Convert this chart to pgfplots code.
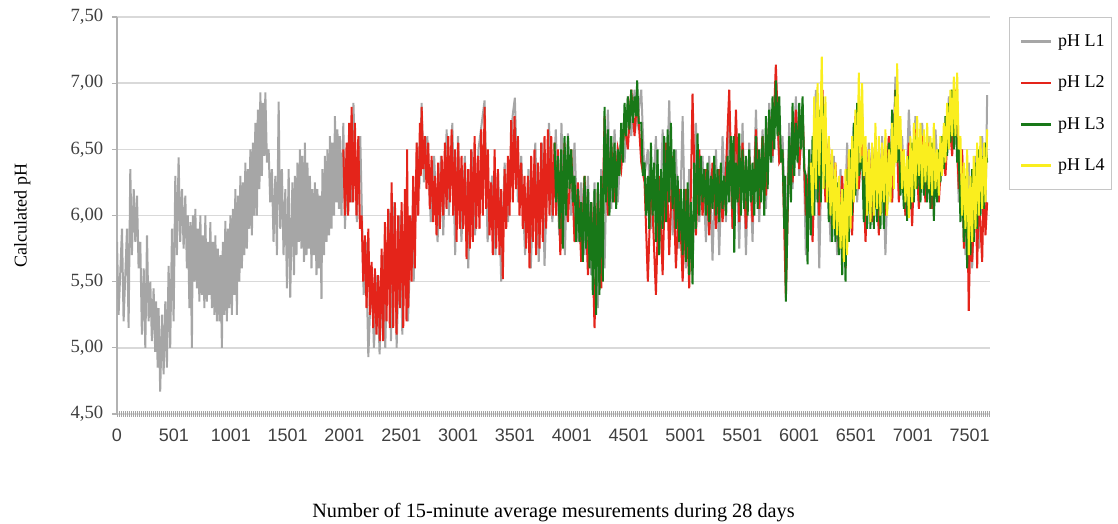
\documentclass[border=0pt]{standalone}
\usepackage{fontspec}
\setmainfont{Liberation Serif}
\setsansfont{Liberation Sans}
\usepackage{pgfplots}
\pgfplotsset{compat=1.18}

\definecolor{cLone}{RGB}{166,166,166}
\definecolor{cLtwo}{RGB}{228,36,26}
\definecolor{cLthree}{RGB}{24,120,24}
\definecolor{cLfour}{RGB}{250,238,30}

\begin{document}
\begin{tikzpicture}
\useasboundingbox (-87.75pt,-82.5pt) rectangle (750.75pt,310.5pt);
\begin{axis}[
    scale only axis,
    width=654.75pt, height=297.75pt,
    xmin=0, xmax=7680,
    ymin=4.5, ymax=7.5,
    axis x line=bottom, axis y line=left,
    axis line style={-},
    y axis line style={draw=gray!60, line width=0.8pt},
    x axis line style={draw=gray!70, line width=3.8pt, dash pattern=on 1.1pt off 0.4pt},
    xtick={0,501,1001,1501,2001,2501,3001,3501,4001,4501,5001,5501,6001,6501,7001,7501},
    xticklabels={0,501,1001,1501,2001,2501,3001,3501,4001,4501,5001,5501,6001,6501,7001,7501},
    x tick style={draw=none},
    xticklabel style={font=\sffamily\fontsize{13.5}{15}\selectfont, text=black!75, yshift=-4pt},
    ytick={4.5,5,5.5,6,6.5,7,7.5},
    y tick style={draw=gray!60, line width=0.8pt},
    tick align=outside,
    major tick length=3.75pt,
    yticklabel style={font=\fontsize{14}{16}\selectfont, text=black!75, xshift=-3pt},
    yticklabel={\pgfmathprintnumber[fixed,fixed zerofill,precision=2,use comma,assume math mode=true]{\tick}},
    ymajorgrids,
    major grid style={draw=gray!30, line width=1.2pt},
    xlabel={Number of 15-minute average mesurements during 28 days},
    ylabel={Calculated pH},
    xlabel style={at={(axis description cs:0.5,-0.247)}, anchor=center, font=\fontsize{15.2}{17}\selectfont},
    ylabel style={at={(axis description cs:-0.1084,0.5)}, anchor=center, font=\fontsize{13.5}{15}\selectfont},
    legend style={at={(axis description cs:1.0218,1)}, anchor=north west,
        draw=gray!45, line width=0.8pt, font=\fontsize{13.5}{15}\selectfont,
        inner xsep=3pt, inner ysep=11pt, row sep=16.5pt},
    legend cell align=left,
    legend image code/.code={
        \path (0pt,0pt) (30pt,0pt);
        \draw[#1, line width=2pt] (5pt,0pt) -- (27.5pt,0pt);},
]
% pH L1 (grey)
\addplot[cLone, line width=1.5pt] coordinates {
(0,5.80)(14,5.25)(44,5.90)(58,5.20)(88,5.90)(102,5.15)(117,6.35)(131,5.70)
(147,6.20)(161,5.80)(176,6.15)(190,5.60)(205,5.80)(219,5.10)(235,5.60)(249,5.00)
(264,5.85)(278,5.20)(293,5.50)(307,5.05)(322,5.45)(336,4.97)(344,5.35)(358,4.85)
(366,5.30)(380,4.67)(396,5.25)(410,4.80)(425,5.35)(439,4.85)(454,5.62)(468,5.00)
(484,5.90)(498,5.20)(513,6.30)(527,5.70)(542,6.44)(556,5.80)(572,6.20)(586,5.75)
(601,6.15)(615,5.60)(623,6.00)(637,5.30)(645,5.95)(659,5.00)(667,6.00)(681,5.50)
(689,6.05)(703,5.45)(711,5.90)(725,5.35)(733,6.00)(747,5.40)(755,5.85)(769,5.30)
(777,6.00)(791,5.35)(799,5.80)(813,5.40)(821,5.95)(835,5.30)(843,5.80)(857,5.25)
(865,5.85)(879,5.20)(887,5.75)(901,5.20)(909,5.70)(923,5.00)(931,5.80)(945,5.25)
(953,5.96)(967,5.20)(975,5.90)(989,5.30)(997,6.00)(1011,5.25)(1019,6.05)(1033,5.40)
(1041,6.20)(1055,5.25)(1063,6.15)(1077,5.50)(1085,6.30)(1099,5.60)(1107,6.25)(1121,5.70)
(1129,6.40)(1143,5.75)(1151,6.35)(1165,5.90)(1173,6.50)(1187,5.85)(1195,6.55)(1209,6.00)
(1217,6.70)(1231,6.00)(1239,6.80)(1253,6.20)(1261,6.93)(1275,6.30)(1283,6.85)(1297,6.45)
(1305,6.93)(1319,6.40)(1334,6.50)(1348,6.10)(1363,6.35)(1377,5.80)(1393,6.30)(1407,5.70)
(1422,6.86)(1436,5.90)(1451,6.35)(1465,5.70)(1481,6.20)(1495,5.45)(1510,6.35)(1524,5.38)
(1543,6.25)(1557,5.55)(1565,6.30)(1579,5.70)(1587,6.40)(1601,5.80)(1609,6.50)(1623,5.75)
(1631,6.45)(1645,5.65)(1653,6.55)(1667,5.70)(1675,6.40)(1689,5.75)(1697,6.30)(1711,5.60)
(1719,6.20)(1733,5.70)(1741,6.25)(1755,5.55)(1763,6.20)(1777,5.60)(1785,6.15)(1799,5.37)
(1807,6.35)(1821,5.70)(1829,6.45)(1843,5.80)(1851,6.50)(1865,5.85)(1873,6.60)(1887,5.90)
(1895,6.55)(1909,6.00)(1917,6.75)(1931,6.10)(1939,6.65)(1953,6.05)(1961,6.60)(1975,6.00)
(1991,6.70)(2005,5.90)(2035,6.55)(2064,6.10)(2080,6.85)(2110,5.95)(2140,6.60)(2170,5.40)
(2190,5.80)(2211,4.93)(2240,5.60)(2260,5.00)(2290,5.55)(2310,4.95)(2340,5.70)(2360,5.00)
(2390,6.05)(2410,5.05)(2440,6.10)(2460,5.00)(2490,6.00)(2510,5.10)(2540,6.15)(2560,5.20)
(2590,6.00)(2610,5.50)(2640,6.55)(2660,6.20)(2680,6.85)(2700,6.25)(2730,6.60)(2760,5.95)
(2790,6.45)(2820,5.80)(2850,6.45)(2870,5.85)(2900,6.65)(2920,6.00)(2950,6.70)(2975,5.70)
(3000,6.60)(3030,5.80)(3060,6.45)(3090,5.60)(3120,6.50)(3150,5.85)(3180,6.50)(3234,6.87)
(3260,5.80)(3300,6.30)(3330,5.70)(3351,6.35)(3380,5.50)(3410,6.40)(3440,5.95)(3480,6.75)
(3500,6.89)(3527,6.10)(3556,6.45)(3590,5.70)(3620,6.35)(3640,5.60)(3680,6.55)(3710,5.65)
(3740,6.55)(3761,5.62)(3800,6.70)(3830,5.95)(3860,6.65)(3890,5.85)(3910,6.70)(3940,5.70)
(3967,6.62)(3996,6.00)(4025,6.55)(4055,5.80)(4084,6.25)(4113,5.70)(4143,6.30)(4172,5.55)
(4201,6.25)(4230,5.30)(4260,6.35)(4289,5.60)(4318,6.80)(4348,6.05)(4377,6.65)(4406,6.10)
(4436,6.60)(4465,6.40)(4494,6.90)(4524,6.60)(4553,6.95)(4576,6.70)(4612,6.95)(4641,6.30)
(4670,6.50)(4700,5.90)(4741,6.60)(4770,5.75)(4800,6.65)(4829,6.00)(4858,6.87)(4888,5.85)
(4917,6.50)(4946,5.75)(4976,6.75)(5005,5.60)(5034,6.35)(5063,5.55)(5093,6.70)(5122,5.95)
(5151,6.45)(5181,5.80)(5210,6.45)(5239,5.66)(5269,6.50)(5298,5.70)(5327,6.60)(5357,5.95)
(5386,6.75)(5415,5.90)(5445,6.60)(5474,5.75)(5503,6.70)(5533,5.70)(5562,6.55)(5591,5.80)
(5621,6.80)(5650,5.95)(5679,6.65)(5709,6.05)(5738,6.85)(5767,6.40)(5796,7.00)(5826,6.40)
(5855,6.60)(5884,5.80)(5914,6.70)(5943,6.20)(5972,6.90)(6002,6.30)(6031,6.85)(6060,5.70)
(6090,6.50)(6119,6.00)(6148,6.95)(6178,5.60)(6207,6.80)(6247,6.50)(6277,5.80)(6306,6.45)
(6335,5.70)(6365,6.35)(6394,5.70)(6423,6.55)(6453,6.05)(6482,6.70)(6511,6.10)(6555,6.80)
(6585,5.95)(6614,6.55)(6643,6.00)(6672,6.60)(6702,5.90)(6731,6.60)(6760,5.70)(6790,6.60)
(6819,6.10)(6848,7.05)(6878,6.20)(6907,6.60)(6936,6.00)(6966,6.80)(6995,6.20)(7024,6.75)
(7054,6.10)(7083,6.70)(7112,6.20)(7142,6.60)(7171,6.10)(7200,6.65)(7230,6.20)(7259,6.60)
(7288,6.40)(7318,6.90)(7347,6.50)(7376,6.95)(7405,6.10)(7435,6.45)(7464,5.70)(7493,6.40)
(7523,5.60)(7552,6.45)(7581,5.75)(7611,6.60)(7640,6.00)(7655,6.91)
};
\addlegendentry{pH L1}
% pH L2 (red)
\addplot[cLtwo, line width=1.5pt] coordinates {
(1991,6.50)(2005,6.00)(2020,6.55)(2034,6.00)(2042,6.70)(2052,6.10)(2064,6.82)(2078,6.10)
(2093,6.70)(2107,6.00)(2123,6.60)(2137,5.90)(2152,6.00)(2166,5.50)(2181,5.85)(2195,5.30)
(2211,5.90)(2225,5.25)(2240,5.65)(2254,5.15)(2269,5.60)(2283,5.10)(2298,5.55)(2312,5.05)
(2328,5.75)(2342,5.05)(2357,5.95)(2371,5.20)(2386,6.05)(2400,5.15)(2416,6.25)(2430,5.15)
(2445,6.10)(2459,5.10)(2474,6.00)(2488,5.30)(2504,6.10)(2518,5.15)(2533,6.20)(2547,5.20)
(2552,6.50)(2562,5.30)(2577,6.00)(2591,5.50)(2606,6.30)(2620,5.60)(2636,6.55)(2650,6.00)
(2665,6.70)(2672,6.30)(2680,6.82)(2694,6.35)(2709,6.60)(2723,6.20)(2738,6.55)(2752,6.05)
(2768,6.45)(2782,5.95)(2797,6.30)(2811,5.85)(2826,6.40)(2840,5.90)(2856,6.45)(2870,6.00)
(2885,6.55)(2899,6.05)(2914,6.60)(2928,6.10)(2944,6.65)(2958,6.00)(2973,6.50)(2987,5.80)
(3002,6.55)(3016,5.90)(3031,6.45)(3045,5.90)(3061,6.40)(3075,5.67)(3090,6.35)(3104,5.75)
(3116,6.50)(3130,5.80)(3146,6.60)(3160,5.90)(3175,6.45)(3189,5.90)(3204,6.65)(3218,6.00)
(3234,6.82)(3248,6.05)(3263,6.50)(3277,5.85)(3292,6.25)(3306,5.70)(3322,6.50)(3336,5.75)
(3351,6.35)(3365,5.70)(3380,6.20)(3394,5.52)(3410,6.35)(3424,5.90)(3439,6.45)(3453,6.00)
(3468,6.72)(3482,6.10)(3497,6.75)(3511,6.20)(3527,6.60)(3541,6.00)(3556,6.40)(3570,5.90)
(3585,6.30)(3599,5.75)(3615,6.30)(3629,5.60)(3644,6.45)(3658,5.80)(3673,6.50)(3687,5.70)
(3703,6.40)(3717,5.75)(3732,6.55)(3746,5.80)(3761,6.60)(3775,5.90)(3791,6.65)(3805,6.00)
(3820,6.60)(3834,6.00)(3849,6.55)(3863,6.00)(3879,6.50)(3900,5.70)(3937,6.55)(3967,5.95)
(3996,6.50)(4025,5.80)(4055,6.25)(4084,5.65)(4113,6.30)(4143,5.55)(4172,6.10)(4201,5.15)
(4230,6.20)(4260,5.45)(4289,6.75)(4318,6.00)(4348,6.55)(4377,6.10)(4406,6.50)(4436,6.35)
(4465,6.70)(4494,6.50)(4524,6.95)(4553,6.60)(4576,6.90)(4612,6.40)(4641,6.25)(4670,5.50)
(4700,6.30)(4741,5.40)(4770,6.30)(4800,5.55)(4829,6.55)(4858,5.70)(4888,6.45)(4917,5.60)
(4946,6.20)(4976,5.50)(5005,6.20)(5034,5.45)(5063,6.92)(5093,5.85)(5122,6.50)(5151,6.00)
(5181,6.35)(5210,5.85)(5239,6.40)(5269,5.90)(5298,6.35)(5327,5.95)(5357,6.35)(5386,6.95)
(5415,5.90)(5445,6.80)(5474,5.95)(5503,6.55)(5533,5.90)(5562,6.45)(5591,5.95)(5621,6.65)
(5650,6.05)(5679,6.60)(5709,6.15)(5738,6.75)(5767,6.45)(5796,7.14)(5826,6.40)(5855,6.45)
(5884,5.38)(5914,6.55)(5943,6.25)(5972,6.80)(6002,6.35)(6031,6.80)(6060,6.00)(6090,6.40)
(6119,5.80)(6148,6.60)(6178,6.00)(6207,6.95)(6232,6.10)(6262,6.55)(6291,5.90)(6320,6.40)
(6350,5.75)(6380,6.30)(6409,5.60)(6438,6.45)(6467,5.85)(6496,6.75)(6526,6.20)(6555,6.60)
(6585,5.80)(6614,6.50)(6643,5.95)(6672,6.60)(6702,5.85)(6731,6.50)(6760,6.00)(6790,6.60)
(6819,6.10)(6848,6.95)(6878,6.10)(6907,6.50)(6936,6.00)(6966,6.55)(6995,5.92)(7024,6.65)
(7054,6.05)(7083,6.60)(7112,6.10)(7142,6.55)(7171,6.05)(7200,6.45)(7230,6.10)(7259,6.55)
(7288,6.30)(7318,6.80)(7347,6.45)(7376,6.95)(7405,6.20)(7435,6.50)(7450,5.75)(7479,6.20)
(7493,5.28)(7510,6.00)(7523,5.65)(7552,6.30)(7567,5.60)(7581,6.20)(7611,5.65)(7626,6.30)
(7640,5.85)(7655,6.10)
};
\addlegendentry{pH L2}
% pH L3 (green)
\addplot[cLthree, line width=1.5pt] coordinates {
(3849,6.55)(3863,6.10)(3879,6.45)(3893,5.90)(3908,6.50)(3922,5.75)(3937,6.60)(3951,6.00)
(3967,6.60)(3981,6.20)(3996,6.50)(4010,6.10)(4025,6.30)(4039,5.80)(4055,6.20)(4069,5.80)
(4084,6.10)(4098,5.65)(4113,6.30)(4127,5.75)(4143,6.20)(4157,5.60)(4172,6.10)(4186,5.40)
(4201,6.20)(4215,5.25)(4230,6.25)(4244,5.40)(4260,6.30)(4274,5.50)(4289,6.82)(4303,6.10)
(4318,6.65)(4332,6.00)(4348,6.60)(4362,6.10)(4377,6.55)(4391,6.05)(4406,6.50)(4420,6.30)
(4436,6.70)(4450,6.40)(4465,6.85)(4479,6.60)(4494,6.90)(4508,6.65)(4524,6.95)(4538,6.70)
(4553,6.90)(4567,6.75)(4576,7.02)(4590,6.70)(4612,6.70)(4626,6.30)(4641,6.40)(4655,6.00)
(4670,6.30)(4682,5.90)(4697,6.55)(4712,6.00)(4726,6.40)(4741,5.80)(4755,6.50)(4770,5.70)
(4785,6.35)(4800,5.90)(4814,6.60)(4829,5.95)(4844,6.65)(4858,6.10)(4873,6.70)(4888,6.05)
(4902,6.50)(4917,5.90)(4932,6.30)(4946,5.80)(4961,6.20)(4976,5.70)(4990,6.20)(5005,5.65)
(5020,6.25)(5034,5.55)(5048,6.10)(5063,5.48)(5078,6.40)(5093,5.90)(5107,6.62)(5122,6.00)
(5136,6.45)(5151,6.10)(5166,6.35)(5181,6.00)(5195,6.40)(5210,5.95)(5224,6.30)(5239,6.05)
(5254,6.45)(5269,6.00)(5283,6.35)(5298,5.95)(5312,6.40)(5327,6.05)(5342,6.30)(5357,6.00)
(5371,6.45)(5386,6.10)(5400,6.60)(5415,6.05)(5424,6.60)(5430,5.72)(5445,6.40)(5460,6.10)
(5474,6.62)(5489,6.00)(5503,6.50)(5518,6.05)(5533,6.45)(5548,6.00)(5562,6.50)(5577,6.10)
(5591,6.40)(5606,6.00)(5621,6.60)(5636,6.05)(5650,6.50)(5665,6.10)(5679,6.60)(5694,6.00)
(5709,6.75)(5724,6.20)(5738,6.80)(5753,6.40)(5767,6.90)(5782,6.50)(5796,7.02)(5811,6.60)
(5826,6.90)(5841,6.40)(5855,6.50)(5870,5.90)(5877,6.30)(5884,5.35)(5914,6.60)(5929,6.10)
(5943,6.85)(5958,6.30)(5972,6.70)(5987,6.40)(6002,6.85)(6017,6.50)(6031,6.90)(6046,6.35)
(6060,6.30)(6075,5.63)(6090,6.50)(6104,5.85)(6119,6.60)(6134,6.00)(6148,6.70)(6163,6.10)
(6178,6.80)(6192,6.10)(6207,6.90)(6222,6.20)(6247,6.50)(6262,5.95)(6277,6.40)(6291,5.80)
(6306,6.30)(6320,5.80)(6335,6.25)(6350,5.70)(6365,6.10)(6380,5.55)(6394,6.20)(6409,5.50)
(6423,6.35)(6438,5.80)(6453,6.50)(6467,6.00)(6482,6.70)(6496,6.15)(6511,6.85)(6526,6.30)
(6555,6.45)(6570,5.95)(6585,6.35)(6599,5.90)(6614,6.40)(6628,5.90)(6643,6.50)(6658,5.90)
(6672,6.45)(6687,5.95)(6702,6.40)(6716,5.90)(6731,6.50)(6746,5.90)(6760,6.40)(6775,6.05)
(6790,6.55)(6804,6.15)(6819,6.80)(6834,6.30)(6848,6.95)(6863,6.40)(6878,6.60)(6892,6.15)
(6907,6.40)(6922,6.05)(6936,6.35)(6951,5.96)(6966,6.45)(6980,6.05)(6995,6.55)(7010,6.10)
(7024,6.60)(7039,6.20)(7054,6.55)(7068,6.10)(7083,6.50)(7098,6.15)(7112,6.55)(7127,6.10)
(7142,6.45)(7156,6.05)(7171,6.55)(7186,5.96)(7200,6.40)(7215,6.10)(7230,6.50)(7244,6.25)
(7259,6.60)(7274,6.35)(7288,6.75)(7303,6.45)(7318,6.85)(7332,6.55)(7347,6.95)(7362,6.50)
(7376,6.90)(7391,6.40)(7405,6.50)(7420,5.95)(7435,6.30)(7450,5.80)(7464,6.30)(7479,5.60)
(7493,6.20)(7508,5.70)(7523,6.35)(7537,5.80)(7552,6.40)(7567,5.90)(7581,6.50)(7596,6.00)
(7611,6.45)(7626,6.05)(7640,6.55)(7655,6.40)
};
\addlegendentry{pH L3}
% pH L4 (yellow)
\addplot[cLfour, line width=1.5pt] coordinates {
(6104,6.40)(6119,6.00)(6134,6.90)(6148,6.20)(6163,7.00)(6178,6.30)(6200,7.20)(6215,6.20)
(6232,6.90)(6247,6.10)(6262,6.60)(6277,6.00)(6291,6.50)(6306,5.90)(6320,6.40)(6335,5.85)
(6350,6.30)(6365,5.75)(6380,6.20)(6394,5.65)(6409,6.35)(6423,5.70)(6438,6.50)(6453,5.90)
(6467,6.60)(6482,6.10)(6496,6.80)(6511,6.20)(6526,7.08)(6540,6.40)(6555,7.00)(6570,6.30)
(6585,6.60)(6599,6.00)(6614,6.50)(6628,5.95)(6643,6.55)(6658,6.00)(6672,6.70)(6687,6.05)
(6702,6.60)(6716,6.00)(6731,6.55)(6746,6.10)(6760,6.65)(6775,6.00)(6790,6.50)(6804,6.10)
(6819,6.70)(6834,6.20)(6848,6.90)(6855,6.40)(6863,7.15)(6878,6.50)(6892,6.75)(6907,6.20)
(6922,6.50)(6936,6.10)(6951,6.45)(6966,5.98)(6980,6.60)(6995,6.10)(7010,6.70)(7024,6.20)
(7039,6.75)(7054,6.30)(7068,6.70)(7083,6.20)(7098,6.65)(7112,6.25)(7127,6.70)(7142,6.20)
(7156,6.60)(7171,6.15)(7186,6.70)(7200,6.20)(7215,6.50)(7230,6.15)(7244,6.60)(7259,6.30)
(7274,6.70)(7288,6.40)(7303,6.85)(7318,6.50)(7332,6.95)(7347,6.60)(7362,7.05)(7376,6.60)
(7391,7.08)(7405,6.50)(7420,6.60)(7435,6.00)(7450,6.40)(7464,5.90)(7479,6.50)(7493,5.70)
(7508,6.30)(7523,5.80)(7537,6.45)(7552,5.90)(7567,6.55)(7581,6.00)(7596,6.60)(7611,6.05)
(7626,6.55)(7640,6.10)(7655,6.65)
};
\addlegendentry{pH L4}
\end{axis}
\end{tikzpicture}
\end{document}
